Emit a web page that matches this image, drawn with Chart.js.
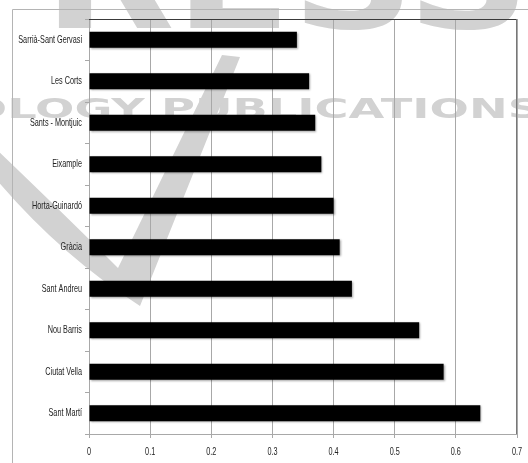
<!DOCTYPE html>
<html>
<head>
<meta charset="utf-8">
<script src="https://cdn.jsdelivr.net/npm/chart.js@4/dist/chart.umd.min.js"></script>
<style>
  html, body { margin: 0; padding: 0; background: #fff; }
</style>
</head>
<body>
<canvas id="chart" width="528" height="463"></canvas>
<script>
const districts = [
  "Sarrià-Sant Gervasi",
  "Les Corts",
  "Sants - Montjuic",
  "Eixample",
  "Horta-Guinardó",
  "Gràcia",
  "Sant Andreu",
  "Nou Barris",
  "Ciutat Vella",
  "Sant Martí",
];
const values = [0.34, 0.36, 0.37, 0.38, 0.40, 0.41, 0.43, 0.54, 0.58, 0.64];
const xMax = 0.7;
const xStep = 0.1;

// axis text is a condensed face; no narrow font is installed, so it is squeezed by hand
const LABEL_FONT = "11px 'Liberation Sans', Arial, sans-serif";
const LABEL_SQUEEZE = 0.66;
const GRID_GRAY = "#a8a8a8";
const MARK_GRAY = "rgb(210, 210, 210)";

const drawSqueezed = (ctx, text, x, y, align) => {
  ctx.save();
  ctx.translate(x, y);
  ctx.scale(LABEL_SQUEEZE, 1);
  ctx.textAlign = align;
  ctx.textBaseline = "middle";
  ctx.fillText(text, 0, 0);
  ctx.restore();
};

// publisher mark behind the chart, the light outer frame and the axis labels
const backdrop = {
  id: "backdrop",
  beforeDraw(chart) {
    const ctx = chart.ctx;
    ctx.save();
    ctx.fillStyle = "#fff";
    ctx.fillRect(0, 0, chart.width, chart.height);
    ctx.fillStyle = MARK_GRAY;

    // top word, mostly cut off by the canvas edge
    ctx.save();
    ctx.font = "bold 140px 'DejaVu Sans'";
    const head = ctx.measureText("SCITE").width;
    const tail = ctx.measureText("PRESS").width;
    ctx.translate(-82, 28);
    ctx.scale(612 / tail, 1);
    ctx.fillText("SCITEPRESS", -head, 0);
    ctx.restore();

    // second line
    ctx.save();
    ctx.font = "bold 26px 'DejaVu Sans'";
    const lead = ctx.measureText("SCIENCE AND TECHNOLOGY ").width;
    const pub = ctx.measureText("PUBLICATIONS").width;
    ctx.translate(161, 118);
    ctx.scale(380 / pub, 1);
    ctx.fillText("SCIENCE AND TECHNOLOGY PUBLICATIONS", -lead, 0);
    ctx.restore();

    // swoosh
    ctx.beginPath();
    ctx.moveTo(-5, 148);
    ctx.quadraticCurveTo(65, 215, 118, 268);
    ctx.lineTo(222, 55);
    ctx.lineTo(240, 57);
    ctx.lineTo(140, 306);
    ctx.quadraticCurveTo(60, 255, -5, 178);
    ctx.closePath();
    ctx.fill();

    ctx.strokeStyle = "#b4b4b4";
    ctx.lineWidth = 1;
    ctx.beginPath();
    ctx.moveTo(12.5, chart.height);
    ctx.lineTo(12.5, 9.5);
    ctx.lineTo(chart.width, 9.5);
    ctx.stroke();
    ctx.restore();
  },
  beforeDatasetsDraw(chart) {
    const ctx = chart.ctx;
    ctx.save();
    ctx.shadowColor = "rgba(0, 0, 0, 0.35)";
    ctx.shadowOffsetX = 1;
    ctx.shadowOffsetY = 1;
    ctx.shadowBlur = 2;
  },
  afterDatasetsDraw(chart) {
    chart.ctx.restore();
  },
  afterDraw(chart) {
    const { ctx, chartArea, scales } = chart;
    ctx.save();
    ctx.strokeStyle = "#3a3a3a";
    ctx.lineWidth = 1;
    ctx.beginPath();
    ctx.moveTo(chartArea.left, chartArea.top + 0.5);
    ctx.lineTo(chartArea.right, chartArea.top + 0.5);
    ctx.stroke();
    ctx.strokeStyle = "#777";
    ctx.beginPath();
    ctx.moveTo(chartArea.right - 0.5, chartArea.top);
    ctx.lineTo(chartArea.right - 0.5, chartArea.bottom);
    ctx.stroke();

    ctx.fillStyle = "#222";
    ctx.font = LABEL_FONT;
    districts.forEach((name, i) => {
      drawSqueezed(ctx, name, chartArea.left - 7, scales.y.getPixelForValue(i), "right");
    });
    scales.x.ticks.forEach((tick) => {
      const label = String(Number(tick.value.toFixed(1)));
      drawSqueezed(ctx, label, scales.x.getPixelForValue(tick.value), chartArea.bottom + 18, "center");
    });
    ctx.restore();
  },
};

new Chart(document.getElementById("chart"), {
  type: "bar",
  data: {
    labels: districts,
    datasets: [
      {
        data: values,
        backgroundColor: "#000",
        borderWidth: 0,
        barPercentage: 0.39,
        categoryPercentage: 1,
      },
    ],
  },
  options: {
    indexAxis: "y",
    responsive: false,
    animation: false,
    events: [],
    layout: { padding: { left: 0, top: 19, right: 11, bottom: 0 } },
    plugins: {
      legend: { display: false },
      tooltip: { enabled: false },
    },
    scales: {
      x: {
        min: 0,
        max: xMax,
        afterFit: (axis) => {
          axis.height = 29;
        },
        ticks: { stepSize: xStep, display: false },
        grid: {
          color: GRID_GRAY,
          lineWidth: 1,
          tickLength: 4,
        },
        border: { color: GRID_GRAY },
      },
      y: {
        afterFit: (axis) => {
          axis.width = 89;
        },
        ticks: { display: false },
        grid: {
          offset: true,
          drawOnChartArea: false,
          color: GRID_GRAY,
          tickLength: 4,
        },
        border: { color: GRID_GRAY },
      },
    },
  },
  plugins: [backdrop],
});
</script>
</body>
</html>
